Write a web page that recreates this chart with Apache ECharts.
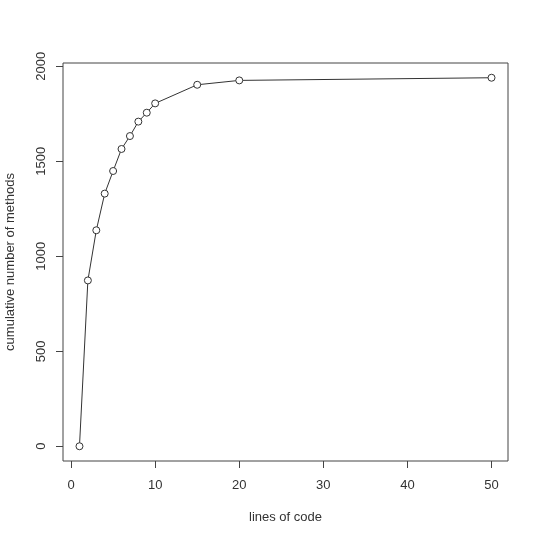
<!DOCTYPE html>
<html>
<head>
<meta charset="utf-8">
<script src="https://cdn.jsdelivr.net/npm/echarts@6/dist/echarts.min.js"></script>
<style>
  html, body { margin: 0; padding: 0; background: #fff; }
  #chart { width: 540px; height: 540px; }
</style>
</head>
<body>
<div id="chart"></div>
<script>
// lines of code vs cumulative number of methods
var linesOfCode = [1, 2, 3, 4, 5, 6, 7, 8, 9, 10, 15, 20, 50];
var cumMethods = [0, 873, 1137, 1330, 1449, 1565, 1633, 1709, 1756, 1805, 1903, 1926, 1940];
var xTicks = [0, 10, 20, 30, 40, 50];
var yTicks = [0, 500, 1000, 1500, 2000];

var font = "Liberation Sans";
var chart = echarts.init(document.getElementById("chart"));

var points = linesOfCode.map(function (x, i) {
  return [x, cumMethods[i]];
});

var option = {
  animation: false,
  grid: {
    left: 63,
    right: 32,
    top: 63,
    bottom: 79,
    show: true,
    borderColor: "#444",
    borderWidth: 1,
    containLabel: false,
    outerBoundsMode: "none"
  },
  xAxis: {
    type: "value",
    min: -0.96,
    max: 51.96,
    name: "lines of code",
    nameLocation: "middle",
    nameGap: 50,
    nameTextStyle: { fontFamily: font, fontSize: 13, color: "#333" },
    axisLine: { show: false, onZero: false },
    splitLine: { show: false },
    axisTick: {
      show: true,
      inside: false,
      length: 7,
      customValues: xTicks,
      lineStyle: { color: "#444" }
    },
    axisLabel: {
      customValues: xTicks,
      margin: 18,
      fontFamily: font,
      fontSize: 13,
      color: "#333",
      formatter: function (v) { return String(v); }
    }
  },
  yAxis: {
    type: "value",
    min: -77.6,
    max: 2017.6,
    name: "cumulative number of methods",
    nameLocation: "middle",
    nameRotate: 90,
    nameGap: 46,
    nameTextStyle: { fontFamily: font, fontSize: 13, color: "#333" },
    axisLine: { show: false, onZero: false },
    splitLine: { show: false },
    axisTick: {
      show: true,
      inside: false,
      length: 7,
      customValues: yTicks,
      lineStyle: { color: "#444" }
    },
    axisLabel: {
      customValues: yTicks,
      rotate: 90,
      margin: 22,
      fontFamily: font,
      fontSize: 13,
      color: "#333",
      verticalAlign: "middle",
      align: "center",
      formatter: function (v) { return String(v); }
    }
  },
  series: [
    {
      type: "line",
      data: points,
      symbol: "circle",
      symbolSize: 7,
      showAllSymbol: true,
      lineStyle: { color: "#333", width: 1 },
      itemStyle: { color: "#fff", borderColor: "#333", borderWidth: 1 }
    }
  ]
};

chart.setOption(option);
</script>
</body>
</html>
